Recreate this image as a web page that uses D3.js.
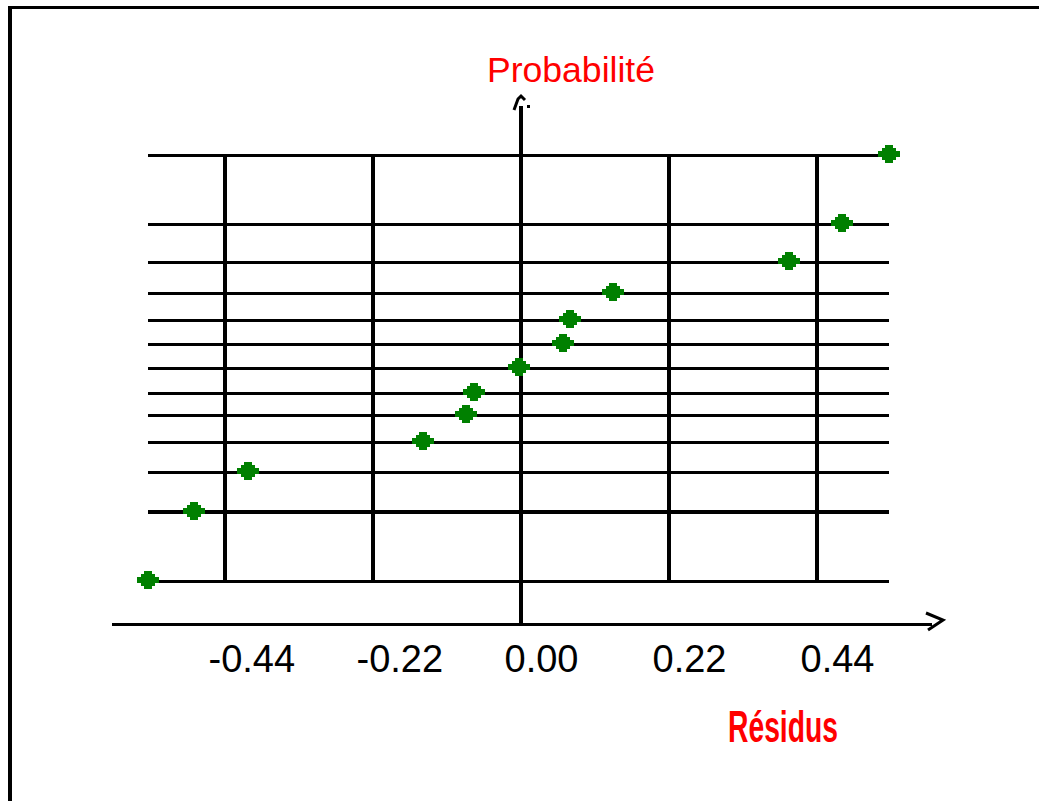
<!DOCTYPE html>
<html>
<head>
<meta charset="utf-8">
<script src="https://cdn.jsdelivr.net/npm/d3@7"></script>
<style>
  body { margin: 0; background: #fff; }
  svg { display: block; }
  line { shape-rendering: crispEdges; }
</style>
</head>
<body>
<script>
// Residuals (sorted) and their normal scores
var residuals = [-0.555, -0.486, -0.406, -0.146, -0.082, -0.070, -0.003, 0.062, 0.073, 0.137, 0.398, 0.477, 0.547];
var normalScore = [-1.77, -1.20, -0.87, -0.62, -0.39, -0.21, 0.00, 0.20, 0.40, 0.62, 0.88, 1.20, 1.77];

var tickValues = [-0.44, -0.22, 0, 0.22, 0.44];
var tickLabels = ["-0.44", "-0.22", "0.00", "0.22", "0.44"];

var svgWidth = 1039;
var svgHeight = 801;

var svg = d3.select("body")
    .append("svg")
    .attr("width", svgWidth)
    .attr("height", svgHeight);

// scales
var xScale = d3.scaleLinear()
    .domain([-0.44, 0.44])
    .range([225, 817]);

var yScale = d3.scaleLinear()
    .domain([-1.77, 1.77])
    .range([580.5, 155]);

var gridLeft = xScale(-0.555);
var gridRight = xScale(0.547);
var gridTop = yScale(1.77);
var gridBottom = yScale(-1.77);

// frame (top and left edges only)
svg.append("rect").attr("x", 8).attr("y", 6).attr("width", svgWidth - 8).attr("height", 3).attr("fill", "#000");
svg.append("rect").attr("x", 8).attr("y", 6).attr("width", 4).attr("height", svgHeight - 6).attr("fill", "#000");

// horizontal grid lines, one for each probability level
svg.append("g")
    .selectAll("line")
    .data(normalScore)
    .enter()
    .append("line")
    .attr("x1", gridLeft)
    .attr("x2", gridRight)
    .attr("y1", d => Math.round(yScale(d)))
    .attr("y2", d => Math.round(yScale(d)))
    .attr("stroke", "#000")
    .attr("stroke-width", (d, i) => i == 1 ? 4 : 3);

// vertical grid lines
svg.append("g")
    .selectAll("line")
    .data(tickValues.filter(d => d != 0))
    .enter()
    .append("line")
    .attr("x1", d => xScale(d))
    .attr("x2", d => xScale(d))
    .attr("y1", gridTop)
    .attr("y2", gridBottom)
    .attr("stroke", "#000")
    .attr("stroke-width", 4);

// x axis line + arrow
var axisY = 624;
svg.append("line")
    .attr("x1", 112).attr("x2", 932)
    .attr("y1", axisY).attr("y2", axisY)
    .attr("stroke", "#000").attr("stroke-width", 3);
svg.append("path")
    .attr("d", "M926,613 L943,620 L928,630")
    .attr("fill", "none").attr("stroke", "#000").attr("stroke-width", 3);

// y axis line + arrow
svg.append("line")
    .attr("x1", xScale(0)).attr("x2", xScale(0))
    .attr("y1", 106).attr("y2", axisY)
    .attr("stroke", "#000").attr("stroke-width", 4);
svg.append("path")
    .attr("d", "M514,110 L518,99 L521,96 L525,100")
    .attr("fill", "none").attr("stroke", "#000").attr("stroke-width", 3);
svg.append("rect").attr("x", 527).attr("y", 105).attr("width", 3).attr("height", 3).attr("fill", "#000");

// tick labels through a bottom axis
var bottomAxis = d3.axisBottom(xScale)
    .tickValues(tickValues)
    .tickSize(0)
    .tickFormat((d, i) => tickLabels[i]);

var xAxis = svg.append("g")
    .attr("transform", "translate(0, " + axisY + ")")
    .call(bottomAxis);
xAxis.select(".domain").remove();
xAxis.selectAll("text")
    .attr("text-anchor", "start")
    .attr("dx", -17)
    .attr("y", 48)
    .attr("dy", 0)
    .style("font-family", "'Liberation Sans', Arial, sans-serif")
    .style("font-size", "38px")
    .style("fill", "#000");

// points
var marker = "M-4,-9 L4,-9 L4,-6 L7,-6 L7,-3 L11,-3 L11,3 L7,3 L7,6 L4,6 L4,9 L-4,9 L-4,6 L-7,6 L-7,3 L-11,3 L-11,-3 L-7,-3 L-7,-6 L-4,-6 Z";
svg.append("g")
    .selectAll("path")
    .data(residuals)
    .enter()
    .append("path")
    .attr("d", marker)
    .attr("transform", (d, i) => "translate(" + Math.round(xScale(d)) + "," + (Math.round(yScale(normalScore[i])) - 1) + ")")
    .attr("fill", "#008000")
    .attr("shape-rendering", "crispEdges");

// axis titles
svg.append("text")
    .attr("x", 487)
    .attr("y", 82)
    .attr("textLength", 168)
    .attr("lengthAdjust", "spacingAndGlyphs")
    .style("font-family", "'Liberation Sans', Arial, sans-serif")
    .style("font-size", "35px")
    .style("fill", "#ff0000")
    .text("Probabilité");

svg.append("text")
    .attr("x", 728)
    .attr("y", 742)
    .attr("textLength", 110)
    .attr("lengthAdjust", "spacingAndGlyphs")
    .style("font-family", "'Liberation Sans Narrow', 'Liberation Sans', Arial, sans-serif")
    .style("font-weight", "bold")
    .style("font-size", "44px")
    .style("fill", "#ff0000")
    .text("Résidus");
</script>
</body>
</html>
